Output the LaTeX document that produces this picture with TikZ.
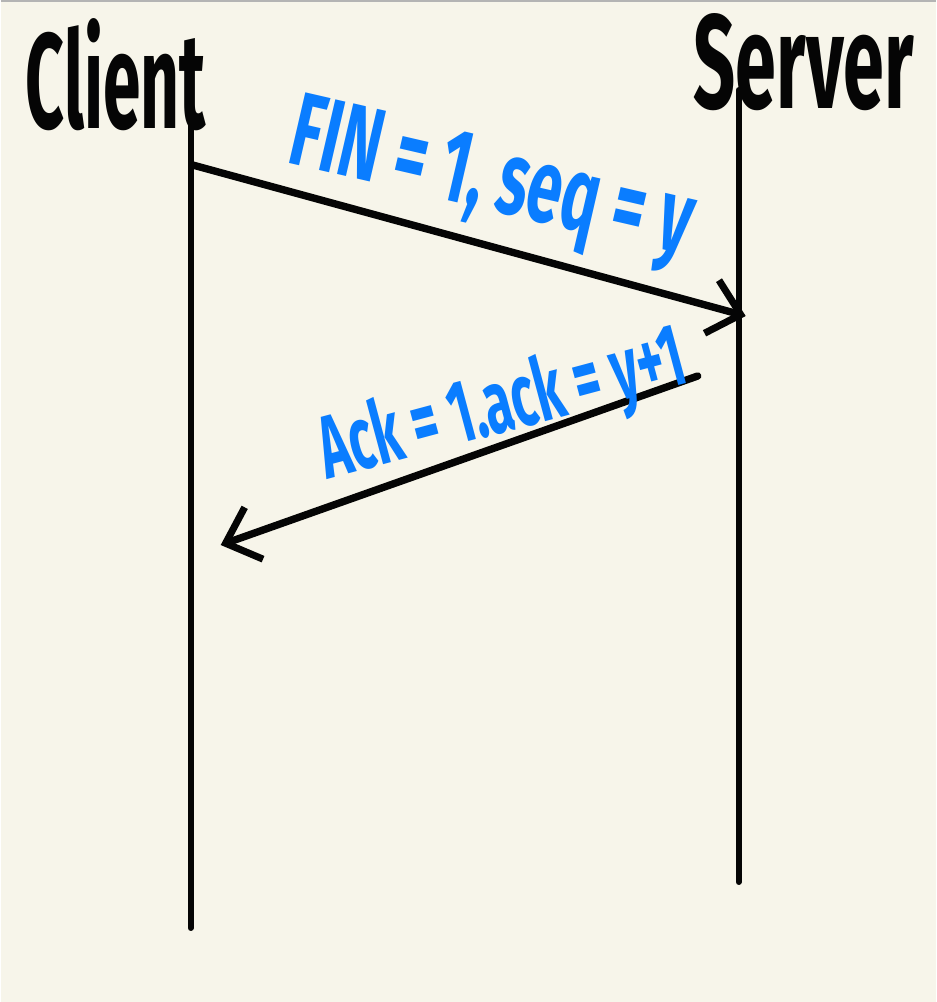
\documentclass[tikz,border=0pt]{standalone}
\usepackage{graphicx}
\usepackage{fontspec}
\setmainfont{Fira Sans}
\usetikzlibrary{positioning,arrows.meta}
\definecolor{paper}{HTML}{F7F5EA}
\definecolor{pen}{HTML}{050505}
\definecolor{marker}{HTML}{0A7DFF}
\definecolor{frame}{HTML}{B4B4B4}

\begin{document}
\begin{tikzpicture}[
    x=0.02cm, y=-0.02cm,
    lifeline/.style={line width=3.4pt, color=pen, line cap=round},
    msg/.style={-{Straight Barb[length=6mm, width=11mm, line width=4pt]},
                line width=4.2pt, color=pen, line cap=round, line join=round},
    head/.style={inner sep=0pt, text=pen, font=\bfseries},
    tag/.style={inner sep=0pt, text=marker, font=\bfseries},
  ]
  % sheet
  \fill[paper] (0,0) rectangle (935,1002);
  \draw[frame, line width=0.8pt] (0,1) -- (935,1);
  \useasboundingbox (0,0) rectangle (935,1002);

  % actors
  \node[head, anchor=base] (client) at (115,128) {\resizebox{3.6cm}{2.2cm}{Client}};
  \node[head, anchor=base] (server) at (803,108) {\resizebox{4.4cm}{1.9cm}{Server}};

  % lifelines
  \coordinate (ctop) at (190,98);
  \coordinate (cbot) at (190,928);
  \coordinate (stop) at (738,90);
  \coordinate (sbot) at (738,882);
  \draw[lifeline] (ctop) -- (cbot);
  \draw[lifeline] (stop) -- (sbot);

  % messages
  \coordinate (fin-from) at (192,165);
  \coordinate (fin-to) at (745,316);
  \coordinate (ack-from) at (697,376);
  \coordinate (ack-to) at (220,545);
  \draw[msg] (fin-from) -- (fin-to);
  \draw[msg] (ack-from) -- (ack-to);

  \node[tag, rotate=-13] (fin) at (490,185) {\resizebox{8.2cm}{1.45cm}{FIN = 1, seq = y}};
  \node[tag, rotate=15] (ack) at (502,408) {\resizebox{7.5cm}{1.35cm}{Ack = 1.ack = y+1}};
\end{tikzpicture}
\end{document}
